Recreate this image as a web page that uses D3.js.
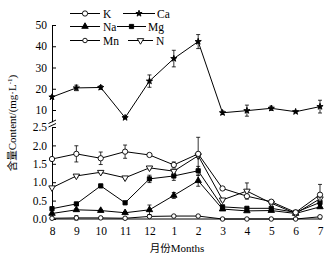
<!DOCTYPE html>
<html><head><meta charset="utf-8">
<script src="https://cdn.jsdelivr.net/npm/d3@7"></script>
<style>
body{margin:0;background:#fff}
svg{display:block}
text{font-family:"Liberation Serif","Times New Roman",serif;fill:#000}
.cjk{font-family:"Noto Sans CJK SC",sans-serif}
</style>
</head><body>
<svg id="c" width="334" height="259"></svg>
<script>
// ---- data ----
const months = ["8","9","10","11","12","1","2","3","4","5","6","7"];
const Ca    = [16.1, 20.4, 20.6, 6.4, 23.6, 34.2, 42.2, 8.7, 9.7, 10.8, 9.2, 11.6];
const CaErr = [0.6, 1.3, 0.9, 0.4, 2.9, 3.9, 3.3, 0.8, 2.6, 1.0, 0.5, 3.0];
const K     = [1.63, 1.77, 1.65, 1.83, 1.74, 1.47, 1.77, 0.83, 0.62, 0.47, 0.18, 0.66];
const KErr  = [0.03, 0.22, 0.17, 0.18, 0.03, 0.08, 0.45, 0.03, 0.04, 0.04, 0.03, 0.28];
const Na    = [0.15, 0.25, 0.23, 0.17, 0.25, 0.64, 1.04, 0.27, 0.22, 0.23, 0.15, 0.33];
const NaErr = [0.02, 0.03, 0.03, 0.03, 0.13, 0.08, 0.15, 0.02, 0.02, 0.02, 0.02, 0.03];
const Mg    = [0.28, 0.41, 0.9, 0.44, 1.09, 1.17, 1.31, 0.33, 0.29, 0.29, 0.18, 0.45];
const MgErr = [0.02, 0.04, 0.03, 0.03, 0.1, 0.12, 0.12, 0.03, 0.03, 0.03, 0.02, 0.04];
const Mn    = [0.02, 0.03, 0.03, 0.02, 0.07, 0.08, 0.08, 0.0, 0.0, 0.0, 0.0, 0.06];
const MnErr = [0.0, 0.06, 0.0, 0.0, 0.0, 0.0, 0.0, 0.0, 0.0, 0.0, 0.0, 0.0];
const N     = [0.85, 1.17, 1.27, 1.12, 1.39, 1.3, 1.72, 0.52, 0.76, 0.43, 0.15, 0.55];
const NErr  = [0.02, 0.03, 0.03, 0.03, 0.03, 0.05, 0.05, 0.03, 0.22, 0.03, 0.02, 0.04];
const upperTicks = [10, 20, 30, 40, 50];
const lowerTicks = [0, 0.5, 1.0, 1.5, 2.0, 2.5];
const legendNames = ["K","Ca","Na","Mg","Mn","N"];

// ---- layout ----
const svg = d3.select("#c");
const x = d3.scalePoint().domain(months).range([52, 320]);
const yU = d3.scaleLinear().domain([4.5, 50]).range([121.7, 25]);
const yL = d3.scaleLinear().domain([0, 2.5]).range([219, 127]);

const sym = {
  K:  {type: d3.symbolCircle, size: 22, fill: "#fff", rot: 0},
  Ca: {type: d3.symbolStar, size: 12, fill: "#000", rot: 0},
  Na: {type: d3.symbolTriangle, size: 18, fill: "#000", rot: 0},
  Mg: {type: d3.symbolSquare, size: 18, fill: "#000", rot: 0},
  Mn: {type: d3.symbolCircle, size: 16, fill: "#fff", rot: 0},
  N:  {type: d3.symbolTriangle, size: 18, fill: "#fff", rot: 180}
};
const series = [
  {name: "Ca", v: Ca, e: CaErr, y: yU},
  {name: "Mn", v: Mn, e: MnErr, y: yL},
  {name: "Na", v: Na, e: NaErr, y: yL},
  {name: "Mg", v: Mg, e: MgErr, y: yL},
  {name: "N",  v: N,  e: NErr,  y: yL},
  {name: "K",  v: K,  e: KErr,  y: yL}
];

// axes
const axU = d3.axisLeft(yU).tickValues(upperTicks).tickSizeInner(-4).tickSizeOuter(0).tickPadding(5).tickFormat(d3.format("d"));
const axL = d3.axisLeft(yL).tickValues(lowerTicks).tickSizeInner(-4).tickSizeOuter(0).tickPadding(5).tickFormat(d3.format(".1f"));
const axX = d3.axisBottom(x).tickSizeInner(0).tickSizeOuter(0).tickPadding(8);

function style(g){
  g.selectAll("path,line").attr("stroke","#000").attr("stroke-width",1);
  g.selectAll("text").attr("font-family","Liberation Serif, serif").attr("font-size",11.5).attr("fill","#000");
}
svg.append("g").attr("transform","translate(52,0)").call(axU).call(style);
svg.append("g").attr("transform","translate(52,0)").call(axL).call(style);
svg.append("g").attr("transform","translate(0,219)").call(axX).call(style)
  .select(".domain").attr("d","M52,0H322");

// break marks
const brk = svg.append("g").attr("stroke","#000").attr("stroke-width",1).attr("fill","none");
brk.append("path").attr("d","M48.5,123.5L56,120");
brk.append("path").attr("d","M48.5,127L56,123.5");

// series
const line = d3.line();
series.forEach(s => {
  const g = svg.append("g");
  const pts = s.v.map((d,i) => [x(months[i]), s.y(d)]);
  g.append("path").attr("d", line(pts)).attr("fill","none").attr("stroke","#000").attr("stroke-width",1);
  s.v.forEach((d,i) => {
    if (s.e[i] <= 0) return;
    const cx = x(months[i]), y1 = s.y(d - s.e[i]), y2 = s.y(d + s.e[i]);
    g.append("path").attr("d", `M${cx},${y1}V${y2}M${cx-2},${y1}H${cx+2}M${cx-2},${y2}H${cx+2}`)
      .attr("stroke","#000").attr("stroke-width",0.8).attr("fill","none");
  });
  const m = sym[s.name];
  g.selectAll("path.m").data(pts).join("path").attr("class","m")
    .attr("d", d3.symbol(m.type, m.size)())
    .attr("transform", d => `translate(${d[0]},${d[1]}) rotate(${m.rot})`)
    .attr("fill", m.fill).attr("stroke","#000").attr("stroke-width",0.9);
});

// legend
const legPos = {
  K:  {x1: 70, x2: 100, tx: 103, y: 13.5},
  Ca: {x1: 123, x2: 155, tx: 157, y: 13.5},
  Na: {x1: 70, x2: 100, tx: 103, y: 26.5},
  Mg: {x1: 117, x2: 146, tx: 148, y: 26.5},
  Mn: {x1: 70, x2: 100, tx: 103, y: 40.5},
  N:  {x1: 128, x2: 153, tx: 156, y: 40.5}
};
legendNames.forEach(n => {
  const p = legPos[n], m = sym[n];
  const g = svg.append("g");
  g.append("line").attr("x1",p.x1).attr("x2",p.x2).attr("y1",p.y).attr("y2",p.y).attr("stroke","#000");
  g.append("path").attr("d", d3.symbol(m.type, m.size)())
    .attr("transform", `translate(${(p.x1+p.x2)/2},${p.y}) rotate(${m.rot})`)
    .attr("fill", m.fill).attr("stroke","#000").attr("stroke-width",0.9);
  g.append("text").attr("x",p.tx).attr("y",p.y).attr("dy","0.35em").attr("font-size",11.5).text(n);
});

// y title
const yt = svg.append("text").attr("transform","translate(16,123) rotate(-90)")
  .attr("text-anchor","middle").attr("font-size",11);
yt.append("tspan").attr("class","cjk").attr("font-size",10.5).text("含量");
yt.append("tspan").text("Content/(mg·L");
yt.append("tspan").attr("font-size",7).attr("dy",-4).text("-1");
yt.append("tspan").attr("dy",4).text(")");

// x title
const xt = svg.append("text").attr("x",177).attr("y",252).attr("text-anchor","middle").attr("font-size",11);
xt.append("tspan").attr("class","cjk").attr("font-size",10.5).text("月份");
xt.append("tspan").text("Months");
</script>
</body></html>
